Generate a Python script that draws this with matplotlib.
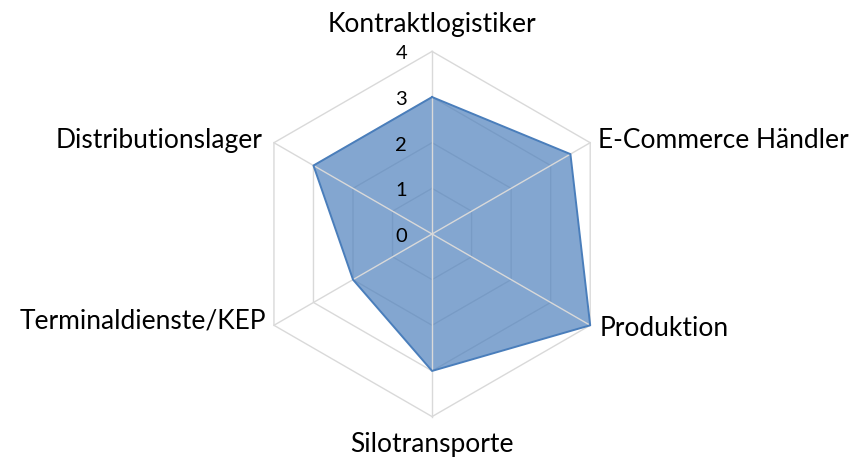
import numpy as np
import matplotlib
matplotlib.use("Agg")
import matplotlib.pyplot as plt

# Daten
categories = ["Kontraktlogistiker", "E-Commerce Händler", "Produktion",
              "Silotransporte", "Terminaldienste/KEP", "Distributionslager"]
values = [3, 3.5, 4, 3, 2, 3]
rings = [1, 2, 3, 4]
tick_labels = ["0", "1", "2", "3", "4"]

plt.rcParams["font.family"] = ["Lato", "DejaVu Sans"]

GRID = "#d9d9d9"
LINE = "#4a7ebb"
FILL = "#4f81bd"

fig = plt.figure(figsize=(8.55, 4.59), dpi=100)
ax = fig.add_axes([0.2918, 0.0924, 0.4271, 0.7956], projection="polar")
ax.set_theta_offset(np.pi / 2)
ax.set_theta_direction(-1)
ax.set_ylim(0, 4)
ax.grid(False)
ax.spines["polar"].set_visible(False)
ax.set_xticks([])
ax.set_yticks([])
ax.patch.set_alpha(0)

n = len(categories)
angles = np.arange(n) * 2 * np.pi / n
closed = np.append(angles, angles[0])

# Sechseck-Ringe (unter der Fläche)
for r in rings:
    ax.plot(closed, [r] * (n + 1), color=GRID, lw=1.0, zorder=1, clip_on=False)

# Datenfläche
vals = np.append(values, values[0])
ax.fill(closed, vals, facecolor=FILL, alpha=0.7, zorder=2, edgecolor="none")
ax.plot(closed, vals, color=LINE, lw=1.4, zorder=4, clip_on=False)

# Speichen (über der Fläche)
for a in angles:
    ax.plot([a, a], [0, 4], color=GRID, lw=1.0, zorder=3, clip_on=False)

# Achsenbeschriftung 0..4
for i, t in enumerate(tick_labels):
    ax.annotate(t, xy=(0, i), xytext=(-25, -8), textcoords="offset pixels",
                ha="right", va="baseline", fontsize=14.5, annotation_clip=False)

# Kategorien
offsets = [(0, 19, "center"), (8, -5, "left"), (9, -11, "left"),
           (0, -35, "center"), (-8, -3, "right"), (-11, -5, "right")]
for a, lab, (dx, dy, ha) in zip(angles, categories, offsets):
    ax.annotate(lab, xy=(a, 4), xytext=(dx, dy), textcoords="offset pixels",
                ha=ha, va="baseline", fontsize=19, annotation_clip=False)

fig.savefig("out.png", dpi=100)
